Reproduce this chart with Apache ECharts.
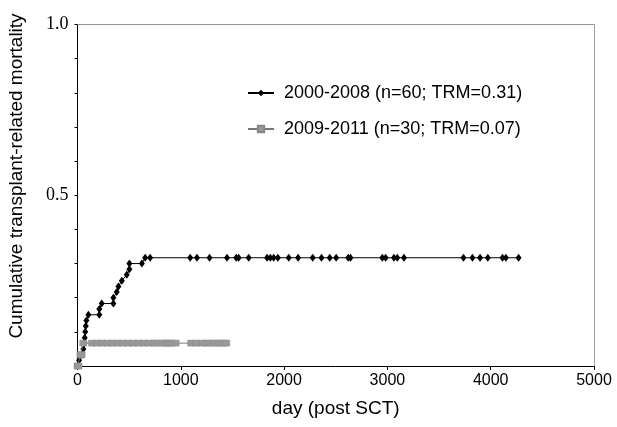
<!DOCTYPE html>
<html><head><meta charset="utf-8">
<script src="https://cdn.jsdelivr.net/npm/echarts@6/dist/echarts.min.js"></script>
<style>html,body{margin:0;padding:0;background:#fff}#c{width:617px;height:427px}</style>
</head><body><div id="c"></div>
<script>
// Series 1: 2000-2008
const blackName = "2000-2008 (n=60; TRM=0.31)";
const blackDays = [0,15,45,56,66,70,75,80,86,105,211,211,235,347,347,380,396,429,477,502,502,623,655,703,
  1091,1156,1278,1447,1537,1560,1657,1835,1867,1899,1940,2045,2136,2277,2362,2442,2504,2621,2643,
  2951,2983,3063,3096,3160,3736,3823,3897,3972,4114,4147,4270];
const blackTRM = [0,0.017,0.033,0.05,0.067,0.083,0.1,0.117,0.133,0.15,0.15,0.167,0.183,0.183,0.2,0.217,0.233,0.25,0.267,0.283,0.3,0.3,0.317,0.317,
  0.317,0.317,0.317,0.317,0.317,0.317,0.317,0.317,0.317,0.317,0.317,0.317,0.317,0.317,0.317,0.317,0.317,0.317,0.317,
  0.317,0.317,0.317,0.317,0.317,0.317,0.317,0.317,0.317,0.317,0.317,0.317];
// Series 2: 2009-2011
const grayName = "2009-2011 (n=30; TRM=0.07)";
const grayDays = [0,10,28,40,56,140,190,240,290,340,390,440,490,540,590,640,690,740,770,820,850,880,910,950,1100,1150,1210,1250,1290,1330,1370,1410,1440];
const grayTRM = [0,0,0.033,0.033,0.067,0.067,0.067,0.067,0.067,0.067,0.067,0.067,0.067,0.067,0.067,0.067,0.067,0.067,0.067,0.067,0.067,0.067,0.067,0.067,0.067,0.067,0.067,0.067,0.067,0.067,0.067,0.067,0.067];
// Axes
const xTicks = [0,1000,2000,3000,4000,5000];
const yLabelled = [0.5, 1.0];

const chart = echarts.init(document.getElementById('c'), null, {renderer:'canvas'});
const pair = (xs, ys) => xs.map((x,i)=>[x, ys[i]]);
chart.setOption({
  animation:false,
  backgroundColor:'#fff',
  grid:{left:77.5, right:23, top:24.5, bottom:61, containLabel:false},
  legend:{
    orient:'vertical', left:242, top:79, itemWidth:26, itemHeight:8, itemGap:18,
    textStyle:{fontFamily:'Liberation Sans, Arial', fontSize:18, color:'#000', padding:[0,0,0,5]},
    data:[blackName, grayName]
  },
  xAxis:[{
    type:'value', min:0, max:5000, interval:1000,
    name:'day (post SCT)', nameLocation:'middle', nameGap:33,
    nameTextStyle:{fontFamily:'Liberation Sans, Arial', fontSize:19, color:'#000'},
    axisLine:{show:true, onZero:false, lineStyle:{color:'#000', width:1}},
    axisTick:{show:true, inside:false, length:4, lineStyle:{color:'#000'}},
    axisLabel:{fontFamily:'Liberation Sans, Arial', fontSize:16, color:'#000', margin:7,
      formatter:v=> xTicks.includes(v) ? String(v) : ''},
    splitLine:{show:false}
  },{
    type:'value', position:'top', min:0, max:5000,
    axisLine:{show:true, onZero:false, lineStyle:{color:'#888', type:'dotted', width:1}},
    axisTick:{show:false}, axisLabel:{show:false}, splitLine:{show:false}
  }],
  yAxis:[{
    type:'value', min:0, max:1, interval:0.1,
    axisLine:{show:true, onZero:false, lineStyle:{color:'#000', width:1}},
    axisTick:{show:true, inside:false, length:3, lineStyle:{color:'#000'}},
    axisLabel:{fontFamily:'Liberation Serif, Times New Roman', fontSize:18, color:'#000', margin:9,
      formatter:v=>{ const r=Math.round(v*10)/10; return yLabelled.some(t=>Math.abs(t-r)<1e-6) ? r.toFixed(1) : ''; }},
    splitLine:{show:false}
  },{
    type:'value', position:'right', min:0, max:1,
    axisLine:{show:true, onZero:false, lineStyle:{color:'#888', type:'dotted', width:1}},
    axisTick:{show:false}, axisLabel:{show:false}, splitLine:{show:false}
  }],
  graphic:[{
    type:'text', x:17, y:176, rotation:Math.PI/2,
    style:{text:'Cumulative transplant-related mortality', fontFamily:'Liberation Sans, Arial', fontSize:19,
      fill:'#000', align:'center', verticalAlign:'middle'}
  }],
  series:[{
    name:blackName, type:'line', data:pair(blackDays, blackTRM),
    symbol:'diamond', symbolSize:[6,8], showAllSymbol:true,
    lineStyle:{color:'#000', width:1}, itemStyle:{color:'#000'}, z:2
  },{
    name:grayName, type:'line', data:pair(grayDays, grayTRM),
    symbol:'rect', symbolSize:[7,6], showAllSymbol:true,
    lineStyle:{color:'#777', width:1}, itemStyle:{color:'#999', borderColor:'#888', borderWidth:0.5}, z:3
  }]
});
</script></body></html>
